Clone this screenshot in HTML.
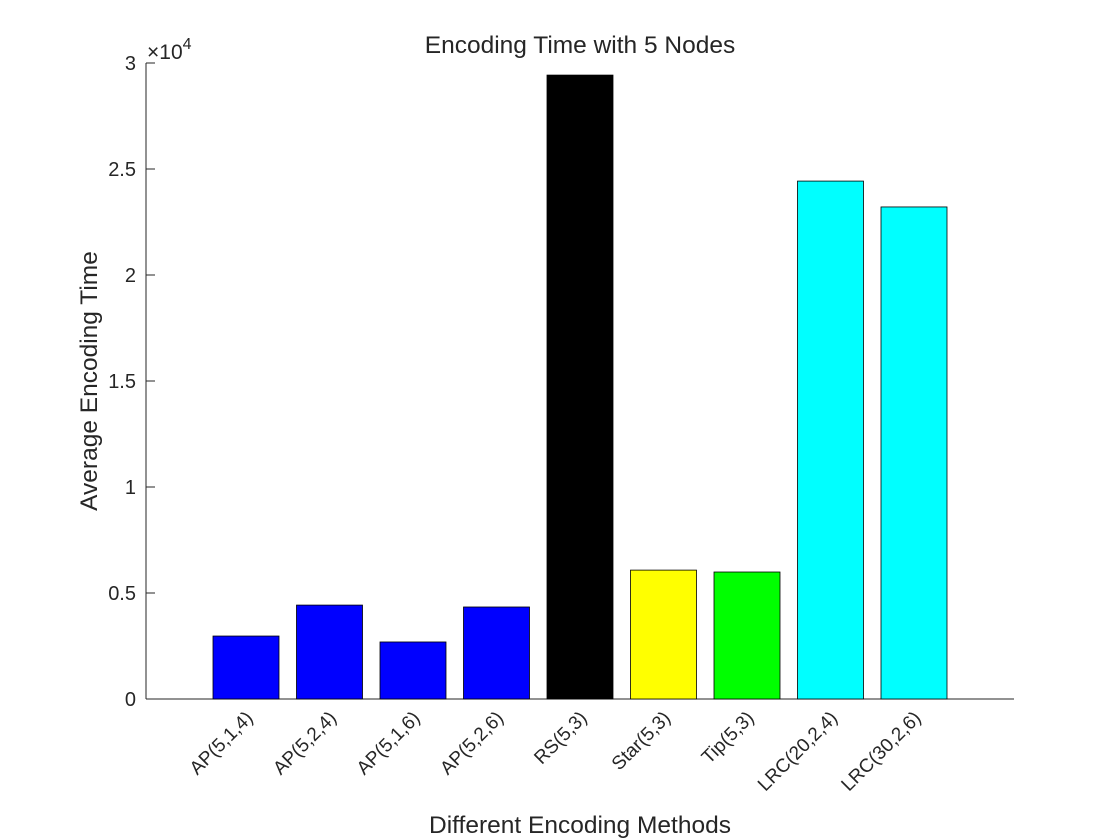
<!DOCTYPE html>
<html><head><meta charset="utf-8"><style>body{margin:0;background:#fff}svg{display:block}text{font-family:"Liberation Sans",Arial,sans-serif;fill:#262626}</style></head>
<body>
<svg id="chart" width="1120" height="840" xmlns="http://www.w3.org/2000/svg">
<rect width="1120" height="840" fill="#fff"/>
<text x="580" y="53" font-size="24.5" text-anchor="middle">Encoding Time with 5 Nodes</text>
<text transform="translate(97,381) rotate(-90)" font-size="24.5" text-anchor="middle">Average Encoding Time</text>
<text x="580" y="833" font-size="24.5" text-anchor="middle">Different Encoding Methods</text>
<text x="147" y="59" font-size="21">×10<tspan dy="-10" font-size="16">4</tspan></text>
<g id="axes"></g>
<g id="bars"></g>
</svg>
<script>
const categories=["AP(5,1,4)","AP(5,2,4)","AP(5,1,6)","AP(5,2,6)","RS(5,3)","Star(5,3)","Tip(5,3)","LRC(20,2,4)","LRC(30,2,6)"];
const values=[2970,4430,2690,4340,29430,6080,5990,24430,23210];
const colors=["#0000ff","#0000ff","#0000ff","#0000ff","#000000","#ffff00","#00ff00","#00ffff","#00ffff"];
const yTicks=[0,5000,10000,15000,20000,25000,30000];
const yTickLabels=["0","0.5","1","1.5","2","2.5","3"];
const NS="http://www.w3.org/2000/svg";
const L=146,R=1014,T=63,B=699,yMax=30000;
const y=v=>B-(v/yMax)*(B-T);
const step=83.5,x0=246;
const x=i=>x0+step*i;
const bw=66;
const bars=document.getElementById('bars'),axes=document.getElementById('axes');
function mk(tag,attrs,parent){const e=document.createElementNS(NS,tag);for(const k in attrs)e.setAttribute(k,attrs[k]);parent.appendChild(e);return e;}
values.forEach((v,i)=>{
  const r=mk('rect',{x:x(i)-bw/2,y:y(v),width:bw,height:B-y(v),fill:colors[i],stroke:'#000','stroke-width':0.8},bars);
  
  
});
const ax=mk('line',{x1:L,y1:B,x2:R,y2:B,stroke:'#262626','stroke-width':1},axes);


const ay=mk('line',{x1:L,y1:T,x2:L,y2:B,stroke:'#262626','stroke-width':1},axes);


yTicks.forEach((t,i)=>{
  mk('line',{x1:L,y1:y(t),x2:L+9,y2:y(t),stroke:'#262626'},axes);
  const tx=mk('text',{x:L-10,y:y(t)+7,'font-size':20,'text-anchor':'end'},axes);
  tx.textContent=yTickLabels[i];
  
  
});
categories.forEach((c,i)=>{
  mk('line',{x1:x(i),y1:B,x2:x(i),y2:B-9,stroke:'#262626'},axes);
  const tx=mk('text',{transform:`translate(${x(i)+8},${B+20}) rotate(-45)`,'font-size':19,'text-anchor':'end'},axes);
  tx.textContent=c;
  
  
});
</script>
</body></html>
